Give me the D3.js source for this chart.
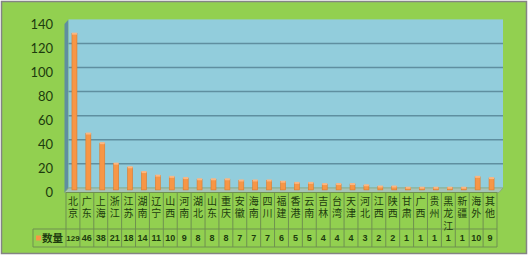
<!DOCTYPE html>
<html>
<head>
<meta charset="utf-8">
<script src="https://cdn.jsdelivr.net/npm/d3@7"></script>
<style>
  body { margin: 0; background: #fff; }
  svg { display: block; }
</style>
</head>
<body>
<svg class="myChart" width="530" height="258"></svg>
<script>
const categories = ['北京','广东','上海','浙江','江苏','湖南','辽宁','山西','河南','湖北','山东','重庆','安徽','海南','四川','福建','香港','云南','吉林','台湾','天津','河北','江西','陕西','甘肃','广西','贵州','黑龙江','新疆','海外','其他'];
const counts = [129,46,38,21,18,14,11,10,9,8,8,8,7,7,7,6,5,5,4,4,4,3,2,2,1,1,1,1,1,10,9];
const yTicks = [0,20,40,60,80,100,120,140];
const seriesName = '数量';

const svg = d3.select('svg.myChart');
const txtColor = '#1d3b0e';
const dx = 4, dy = -4.6;   // 3d depth offset

// outer frame
svg.append('rect')
  .attr('x', 1.5).attr('y', 1.5).attr('width', 525).attr('height', 252)
  .attr('fill', '#92d050').attr('stroke', '#848484').attr('stroke-width', 1.5);

const xScale = d3.scaleBand().domain(categories).range([66, 497]).padding(0);
const yFront = d3.scaleLinear().domain([0, 140]).range([192.5, 24]);
const yBack = v => yFront(v) + dy;
const x0 = 64.5, x1 = 497;

// left wall
svg.append('polygon')
  .attr('points', [[x0, yFront(140)], [x0 + dx, yBack(140)], [x0 + dx, yBack(0)], [x0, yFront(0)]].join(' '))
  .attr('fill', '#5f8ea0');

// back wall
svg.append('rect')
  .attr('x', x0 + dx).attr('y', yBack(140))
  .attr('width', x1 + 6 - (x0 + dx)).attr('height', yBack(0) - yBack(140))
  .attr('fill', '#92cddc');

// floor
svg.append('polygon')
  .attr('points', [[x0, yFront(0)], [x0 + dx, yBack(0)], [x1 + 6, yBack(0)], [x1 + 2, yFront(0)]].join(' '))
  .attr('fill', '#a6c4b8').attr('stroke', '#86a47a').attr('stroke-width', 0.8);

// gridlines on back wall
svg.append('g').selectAll('line').data(yTicks.filter(t => t > 0 && t < 140))
  .enter().append('line')
  .attr('x1', x0 + dx).attr('x2', x1 + 6)
  .attr('y1', d => yBack(d)).attr('y2', d => yBack(d))
  .attr('stroke', '#5f8fa0').attr('stroke-width', 1.5);

// y axis labels
svg.append('g').selectAll('text').data(yTicks)
  .enter().append('text')
  .attr('x', 53).attr('y', d => yFront(d))
  .attr('dy', '0.35em')
  .attr('text-anchor', 'end')
  .attr('font-family', 'Lato, "Open Sans", sans-serif')
  .attr('font-size', '13px')
  .attr('fill', txtColor)
  .text(d => d);

// bars
const bw = 5;
const bars = svg.append('g').selectAll('g').data(categories)
  .enter().append('g');
bars.append('rect')
  .attr('x', d => xScale(d) + xScale.bandwidth() / 2 - bw / 2 + 1.5)
  .attr('y', (d, i) => yBack(counts[i]) + 1)
  .attr('width', bw)
  .attr('height', (d, i) => yBack(0) - yBack(counts[i]) + 1)
  .attr('fill', '#f79646')
  .attr('stroke', '#e07a2a').attr('stroke-width', 0.6);
bars.append('rect')
  .attr('x', d => xScale(d) + xScale.bandwidth() / 2 - bw / 2 + 1.5)
  .attr('y', (d, i) => yBack(counts[i]))
  .attr('width', bw).attr('height', 2)
  .attr('fill', '#fbb783');

// data table
const tTop = yFront(0), tMid = 229, tBot = 247;
const table = svg.append('g').attr('stroke', '#6f9150').attr('stroke-width', 1);
table.append('line').attr('x1', 66).attr('x2', x1).attr('y1', tTop).attr('y2', tTop);
table.append('line').attr('x1', 33).attr('x2', x1).attr('y1', tMid).attr('y2', tMid);
table.append('line').attr('x1', 33).attr('x2', x1).attr('y1', tBot).attr('y2', tBot);
table.append('line').attr('x1', 33).attr('x2', 33).attr('y1', tMid).attr('y2', tBot);
table.selectAll('.vline').data(categories.concat(['end']))
  .enter().append('line').attr('class', 'vline')
  .attr('x1', d => d === 'end' ? x1 : xScale(d))
  .attr('x2', d => d === 'end' ? x1 : xScale(d))
  .attr('y1', tTop).attr('y2', tBot);

// category labels, written vertically
svg.append('g').selectAll('text').data(categories)
  .enter().append('text')
  .attr('x', d => xScale(d) + xScale.bandwidth() / 2)
  .attr('y', 196)
  .style('writing-mode', 'vertical-rl')
  .attr('letter-spacing', '2.5px')
  .attr('font-family', '"Noto Sans CJK SC", sans-serif')
  .attr('font-size', '10px')
  .attr('fill', txtColor)
  .text(d => d);

// value row
svg.append('g').selectAll('text').data(counts)
  .enter().append('text')
  .attr('x', (d, i) => xScale(categories[i]) + xScale.bandwidth() / 2)
  .attr('y', (tMid + tBot) / 2)
  .attr('dy', '0.35em')
  .attr('text-anchor', 'middle')
  .attr('font-family', '"Liberation Sans Narrow", "Liberation Sans", sans-serif')
  .attr('font-size', d => d >= 100 ? '8px' : '9px')
  .attr('font-weight', 'bold')
  .attr('fill', txtColor)
  .text(d => d);

// legend key
svg.append('rect')
  .attr('x', 36).attr('y', 235.5).attr('width', 5).attr('height', 5)
  .attr('fill', '#f79646');
svg.append('text')
  .attr('x', 42).attr('y', (tMid + tBot) / 2).attr('dy', '0.35em')
  .attr('font-family', '"Noto Sans CJK SC", sans-serif')
  .attr('font-size', '10.5px').attr('font-weight', 'bold')
  .attr('fill', txtColor)
  .text(seriesName);
</script>
</body>
</html>
